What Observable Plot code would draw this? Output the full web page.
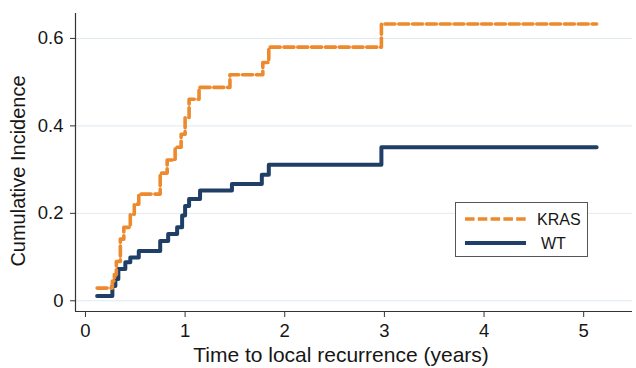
<!DOCTYPE html>
<html>
<head>
<meta charset="utf-8">
<script src="https://cdn.jsdelivr.net/npm/d3@7"></script>
<script src="https://cdn.jsdelivr.net/npm/@observablehq/plot@0.6"></script>
<style>
  body { margin: 0; background: #fff; }
  #wrap { position: relative; width: 636px; height: 368px; font-family: "Liberation Sans", Arial, sans-serif; }
  #legend { position: absolute; left: 455px; top: 202px; width: 133px; height: 55px; border: 1px solid #555; background: #fff; box-sizing: border-box; }
  #legend svg { position: absolute; left: 0; top: 0; }
</style>
</head>
<body>
<div id="wrap"></div>
<script>
// Data
const groups = ["KRAS", "WT"];
const krasTime = [0.117, 0.27, 0.29, 0.31, 0.35, 0.385, 0.45, 0.49, 0.535, 0.75, 0.82, 0.90, 0.96, 1.0, 1.04, 1.14, 1.45, 1.78, 1.84, 2.97, 5.13];
const krasCI   = [0.029, 0.045, 0.06, 0.09, 0.141, 0.168, 0.198, 0.221, 0.244, 0.292, 0.322, 0.351, 0.381, 0.419, 0.461, 0.488, 0.517, 0.545, 0.58, 0.633, 0.633];
const wtTime   = [0.117, 0.27, 0.30, 0.33, 0.40, 0.45, 0.535, 0.75, 0.83, 0.92, 0.97, 1.0, 1.04, 1.15, 1.47, 1.77, 1.84, 2.97, 5.13];
const wtCI     = [0.011, 0.034, 0.050, 0.0725, 0.088, 0.099, 0.114, 0.137, 0.153, 0.168, 0.195, 0.217, 0.233, 0.252, 0.267, 0.288, 0.311, 0.351, 0.351];
const xTicks = [0, 1, 2, 3, 4, 5];
const yTicks = [0, 0.2, 0.4, 0.6];
const colors = {KRAS: "#ec8a2d", WT: "#203f66"};

const kras = krasTime.map((t, i) => ({t, ci: krasCI[i], g: "KRAS"}));
const wt = wtTime.map((t, i) => ({t, ci: wtCI[i], g: "WT"}));

const plot = Plot.plot({
  width: 636,
  height: 368,
  marginLeft: 75,
  marginRight: 4,
  marginTop: 13,
  marginBottom: 57,
  style: {fontFamily: "'Liberation Sans', Arial, sans-serif", fontSize: "18px", color: "#161616", background: "#fff"},
  x: {domain: [-0.1, 5.49]},
  y: {domain: [-0.0245, 0.657]},
  marks: [
    Plot.gridY(yTicks, {stroke: "#e0e9f0", strokeOpacity: 1, strokeWidth: 1}),
    Plot.axisX(xTicks, {tickSize: 6, tickPadding: 6, stroke: "#333", fontSize: 18.5, label: null}),
    Plot.axisY(yTicks, {tickSize: 5, tickPadding: 7, stroke: "#333", fontSize: 18.5, label: null, tickFormat: d3.format("")}),
    Plot.ruleX([-0.1], {stroke: "#333", strokeWidth: 1.2}),
    Plot.ruleY([-0.0245], {stroke: "#333", strokeWidth: 1.2}),
    Plot.line(wt, {x: "t", y: "ci", curve: "step-after", stroke: colors.WT, strokeWidth: 4}),
    Plot.line(kras, {x: "t", y: "ci", curve: "step-after", stroke: colors.KRAS, strokeWidth: 3.6, strokeDasharray: "10,3.8"})
  ]
});
document.getElementById("wrap").appendChild(plot);

// axis titles
const svg = d3.select(plot);
svg.append("text").attr("x", 341).attr("y", 362).attr("text-anchor", "middle")
  .attr("font-size", 21).attr("fill", "#161616").text("Time to local recurrence (years)");
svg.append("text").attr("transform", "translate(25,171) rotate(-90)").attr("text-anchor", "middle")
  .attr("font-size", 20).attr("fill", "#161616").text("Cumulative Incidence");

// legend
const leg = document.createElement("div");
leg.id = "legend";
document.getElementById("wrap").appendChild(leg);
const ls = d3.select(leg).append("svg").attr("width", 133).attr("height", 55);
groups.forEach((g, i) => {
  const y = 16 + i * 24;
  ls.append("line").attr("x1", 9).attr("x2", 70).attr("y1", y).attr("y2", y)
    .attr("stroke", colors[g]).attr("stroke-width", g === "KRAS" ? 3.6 : 4)
    .attr("stroke-dasharray", g === "KRAS" ? "9.5,3.3" : null);
  ls.append("text").attr("x", g === "KRAS" ? 81 : 85).attr("y", y + 6)
    .attr("font-size", 16).attr("fill", "#161616").attr("font-family", "'Liberation Sans', Arial, sans-serif").text(g);
});
</script>
</body>
</html>
